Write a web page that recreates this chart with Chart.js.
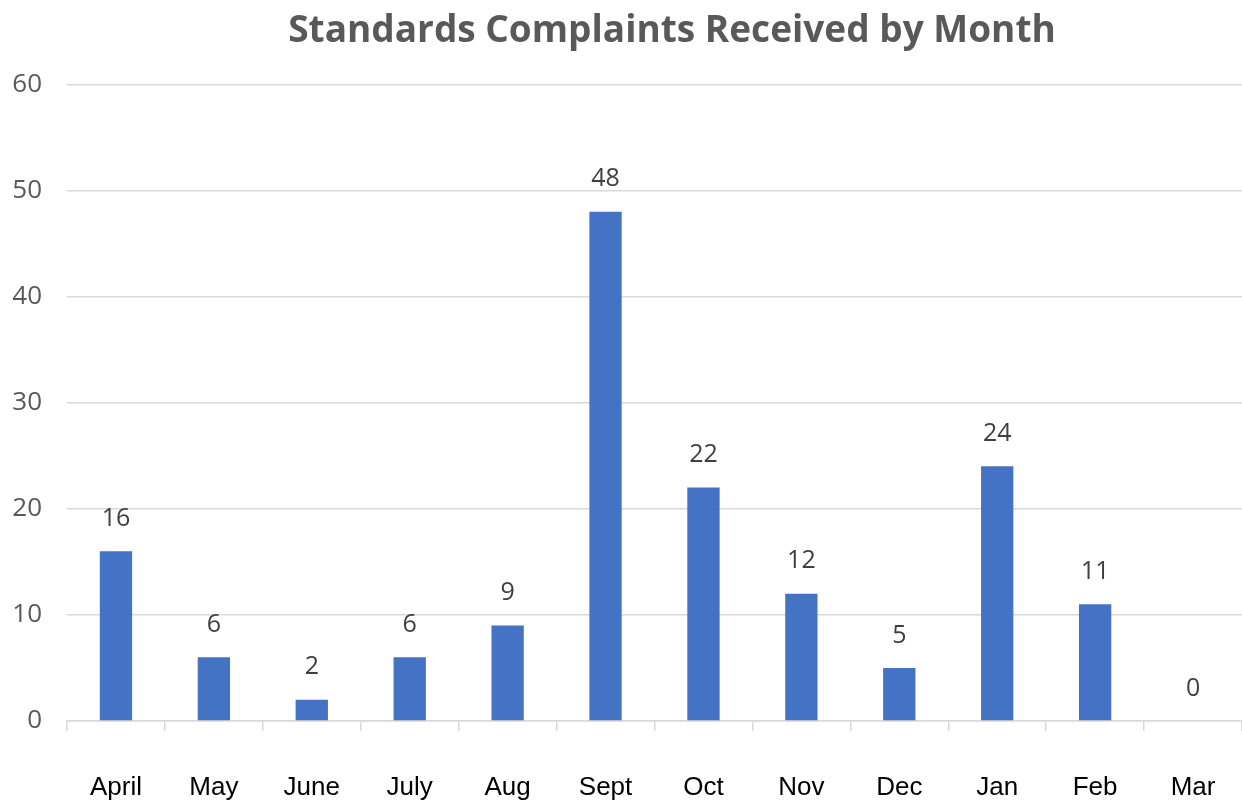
<!DOCTYPE html>
<html>
<head>
<meta charset="utf-8">
<script src="https://cdn.jsdelivr.net/npm/chart.js@4.4.1/dist/chart.umd.min.js"></script>
<style>
  html, body { margin: 0; padding: 0; background: #ffffff; overflow: hidden; }
  canvas { display: block; }
</style>
</head>
<body>
<canvas id="complaintsChart" width="1242" height="803"></canvas>
<script>
// chart data
const months = ['April', 'May', 'June', 'July', 'Aug', 'Sept', 'Oct', 'Nov', 'Dec', 'Jan', 'Feb', 'Mar'];
const complaints = [16, 6, 2, 6, 9, 48, 22, 12, 5, 24, 11, 0];
const yTicks = [0, 10, 20, 30, 40, 50, 60];

// value labels drawn above each bar, and a small nudge of the title to the right
const valueLabels = {
    id: 'valueLabels',
    afterLayout(chart) {
        if (chart.titleBlock) chart.titleBlock.left += 35;
    },
    afterDatasetsDraw(chart) {
        const ctx = chart.ctx;
        const meta = chart.getDatasetMeta(0);
        ctx.save();
        ctx.font = '25px "Open Sans"';
        ctx.fillStyle = '#404040';
        ctx.textAlign = 'center';
        ctx.textBaseline = 'bottom';
        meta.data.forEach(function (bar, i) {
            ctx.fillText(String(complaints[i]), bar.x, bar.y - 20);
        });
        ctx.restore();
    }
};

document.addEventListener('DOMContentLoaded', function () {
    const ctx = document.getElementById('complaintsChart').getContext('2d');
    new Chart(ctx, {
        type: 'bar',
        data: {
            labels: months,
            datasets: [{
                label: 'Complaints',
                data: complaints,
                backgroundColor: '#4472C4',
                borderWidth: 0,
                categoryPercentage: 1.0,
                barPercentage: 0.33
            }]
        },
        options: {
            responsive: false,
            animation: false,
            layout: { padding: { left: 12, right: 0, top: 9, bottom: 0 } },
            plugins: {
                legend: { display: false },
                tooltip: { enabled: false },
                title: {
                    display: true,
                    text: 'Standards Complaints Received by Month',
                    fullSize: false,
                    color: '#595959',
                    font: { family: 'Open Sans', size: 37, weight: 'bold' },
                    padding: { top: 0, bottom: 31 }
                }
            },
            scales: {
                y: {
                    min: 0,
                    max: 60,
                    afterBuildTicks: function (axis) {
                        axis.ticks = yTicks.map(v => ({ value: v }));
                    },
                    afterFit: function (axis) {
                        axis.width = 55;
                    },
                    border: { display: false },
                    grid: { color: '#d9d9d9', lineWidth: 1.5, drawTicks: false },
                    ticks: {
                        padding: 25,
                        color: '#595959',
                        font: { family: 'Open Sans', size: 26 }
                    }
                },
                x: {
                    afterFit: function (axis) {
                        axis.height = 82;
                        axis.paddingLeft = 0;
                        axis.paddingRight = 0;
                    },
                    border: { display: true, color: '#d9d9d9', width: 1.5 },
                    grid: {
                        drawOnChartArea: false,
                        drawTicks: true,
                        tickLength: 10,
                        color: '#d9d9d9',
                        lineWidth: 1.5
                    },
                    ticks: {
                        padding: 41,
                        color: '#000000',
                        maxRotation: 0,
                        autoSkip: false,
                        font: { family: 'Liberation Sans', size: 26 }
                    }
                }
            }
        },
        plugins: [valueLabels]
    });
});
</script>
</body>
</html>
